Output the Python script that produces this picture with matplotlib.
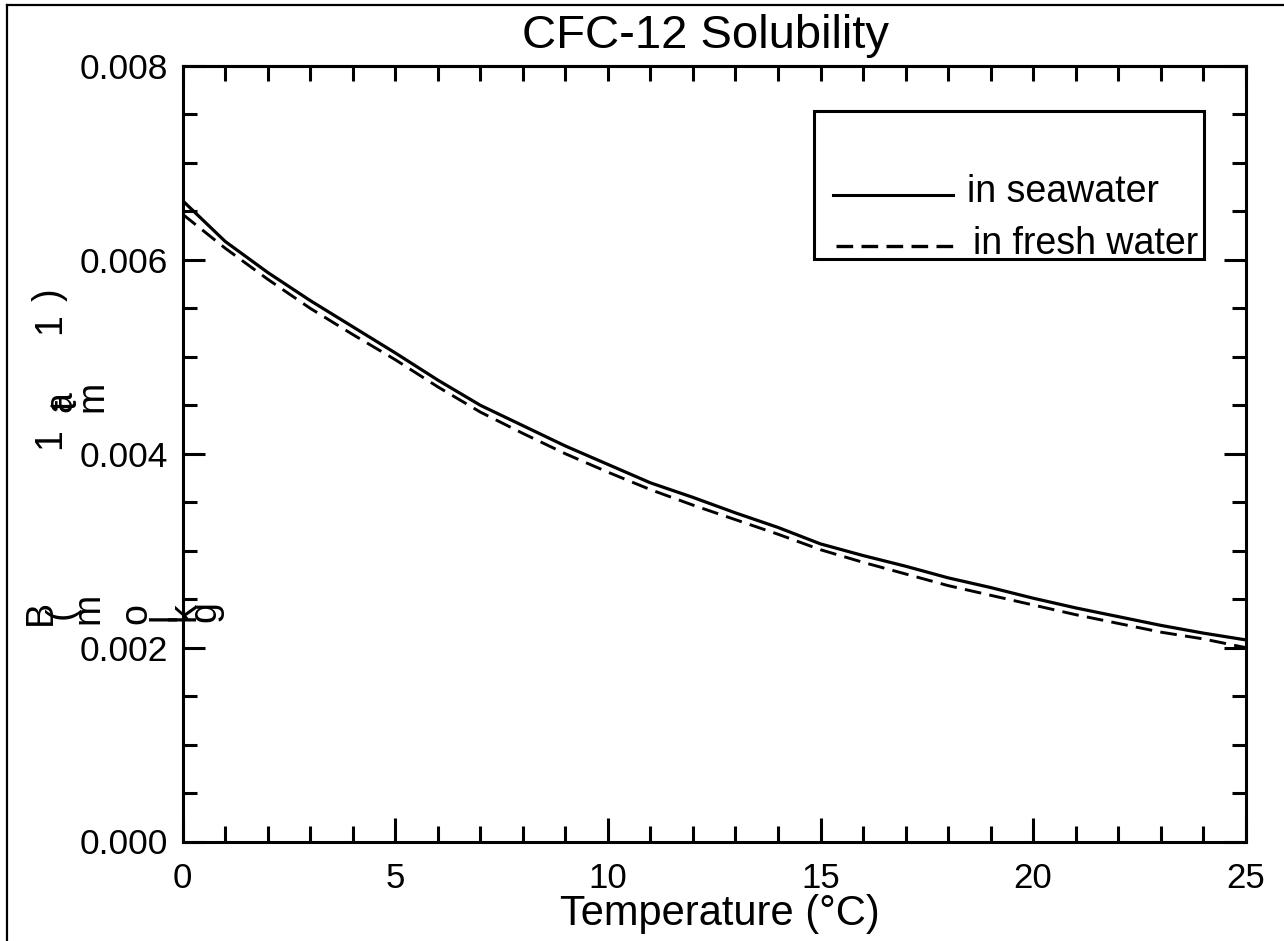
import matplotlib
matplotlib.use("Agg")
import matplotlib.pyplot as plt
from matplotlib.lines import Line2D
from matplotlib.patches import Rectangle
from matplotlib.ticker import MultipleLocator, FormatStrFormatter

plt.rcParams['font.family'] = ['Liberation Sans', 'DejaVu Sans']
plt.rcParams['lines.scale_dashes'] = False

# ---- data ----
temperature = [0, 1, 2, 3, 4, 5, 6, 7, 8, 9, 10, 11, 12, 13, 14, 15, 16, 17, 18, 19, 20, 21, 22, 23, 24, 25]
seawater = [0.00661, 0.00619, 0.00587, 0.00558, 0.00531, 0.00504, 0.00476, 0.00450, 0.00429, 0.00408,
            0.00389, 0.00370, 0.00355, 0.00339, 0.00324, 0.00307, 0.00295, 0.00284, 0.00272, 0.00262,
            0.00251, 0.00241, 0.00232, 0.00223, 0.00215, 0.00208]
freshwater = [0.00647, 0.00612, 0.00580, 0.00550, 0.00523, 0.00497, 0.00469, 0.00443, 0.00421, 0.00400,
              0.00381, 0.00363, 0.00347, 0.00332, 0.00317, 0.00301, 0.00288, 0.00276, 0.00264, 0.00254,
              0.00244, 0.00234, 0.00225, 0.00216, 0.00209, 0.00200]
series_labels = ["in seawater", "in fresh water"]
title = "CFC-12 Solubility"
xlabel = "Temperature (°C)"

W, H = 1284, 941
fig = plt.figure(figsize=(W / 100, H / 100), dpi=100)

def fx(px):
    return px / W

def fy(py):
    return 1 - py / H

left, right, top, bottom = 182.7, 1245.7, 66, 841.5
ax = fig.add_axes([fx(left), fy(bottom), fx(right) - fx(left), (bottom - top) / H])

ax.plot(temperature, seawater, color='black', lw=2.3, solid_joinstyle='round')
ax.plot(temperature, freshwater, color='black', lw=2.1, dashes=(12, 6))

ax.set_xlim(0, 25)
ax.set_ylim(0, 0.008)
ax.xaxis.set_major_locator(MultipleLocator(5))
ax.xaxis.set_minor_locator(MultipleLocator(1))
ax.yaxis.set_major_locator(MultipleLocator(0.002))
ax.yaxis.set_minor_locator(MultipleLocator(0.0005))
ax.yaxis.set_major_formatter(FormatStrFormatter('%.3f'))

for s in ax.spines.values():
    s.set_linewidth(2.2)

ax.tick_params(axis='x', which='major', direction='in', length=17, width=2.2, labelsize=25, pad=15, top=False)
ax.tick_params(axis='x', which='minor', direction='in', length=11.5, width=2.2, top=False)
ax.tick_params(axis='y', which='major', direction='in', length=15.5, width=2.2, labelsize=25.5, pad=10.5, right=True)
ax.tick_params(axis='y', which='minor', direction='in', length=10, width=2.2, right=True)

sec = ax.secondary_xaxis('top')
sec.xaxis.set_major_locator(MultipleLocator(1))
sec.tick_params(axis='x', which='major', direction='in', length=11, width=2.2, labeltop=False)
sec.spines['top'].set_linewidth(2.2)

# title and x label
fig.text(fx(705), fy(48), title, fontsize=34, ha='center', va='baseline')
fig.text(fx(720), fy(925), xlabel, fontsize=30, ha='center', va='baseline')

# garbled rotated y label glyphs as in the reference
glyphs = [("B", 41, 612), ("(", 62, 613), ("m", 88, 608), ("o", 136, 614), ("l", 166, 617),
          ("k", 185, 612), ("g", 205, 612), ("1", 50, 439), ("a", 61, 402), ("t", 66, 405),
          ("m", 92, 396), ("1", 50, 324), (")", 50, 295)]
for ch, px, py in glyphs:
    fig.text(fx(px), fy(py), ch, fontsize=27, rotation=90, ha='center', va='center')

# legend box
fig.patches.append(Rectangle((fx(814), fy(259.3)), fx(1204) - fx(814), (259.3 - 110.7) / H,
                             transform=fig.transFigure, fill=False, edgecolor='black', lw=2.2))
fig.lines.append(Line2D([fx(833), fx(953)], [fy(195), fy(195)], transform=fig.transFigure,
                        color='black', lw=2.2))
fig.lines.append(Line2D([fx(836), fx(953)], [fy(245.7), fy(245.7)], transform=fig.transFigure,
                        color='black', lw=2.4, dashes=(12, 6)))
fig.text(fx(967), fy(202), series_labels[0], fontsize=27, ha='left', va='baseline')
fig.text(fx(973), fy(254), series_labels[1], fontsize=27, ha='left', va='baseline')

# figure frame (left and top edges)
fig.lines.append(Line2D([fx(7), fx(7)], [fy(5), 0], transform=fig.transFigure, color='black', lw=1.6))
fig.lines.append(Line2D([fx(7), 1], [fy(5), fy(5)], transform=fig.transFigure, color='black', lw=1.6))

fig.savefig("out.png", dpi=100)
